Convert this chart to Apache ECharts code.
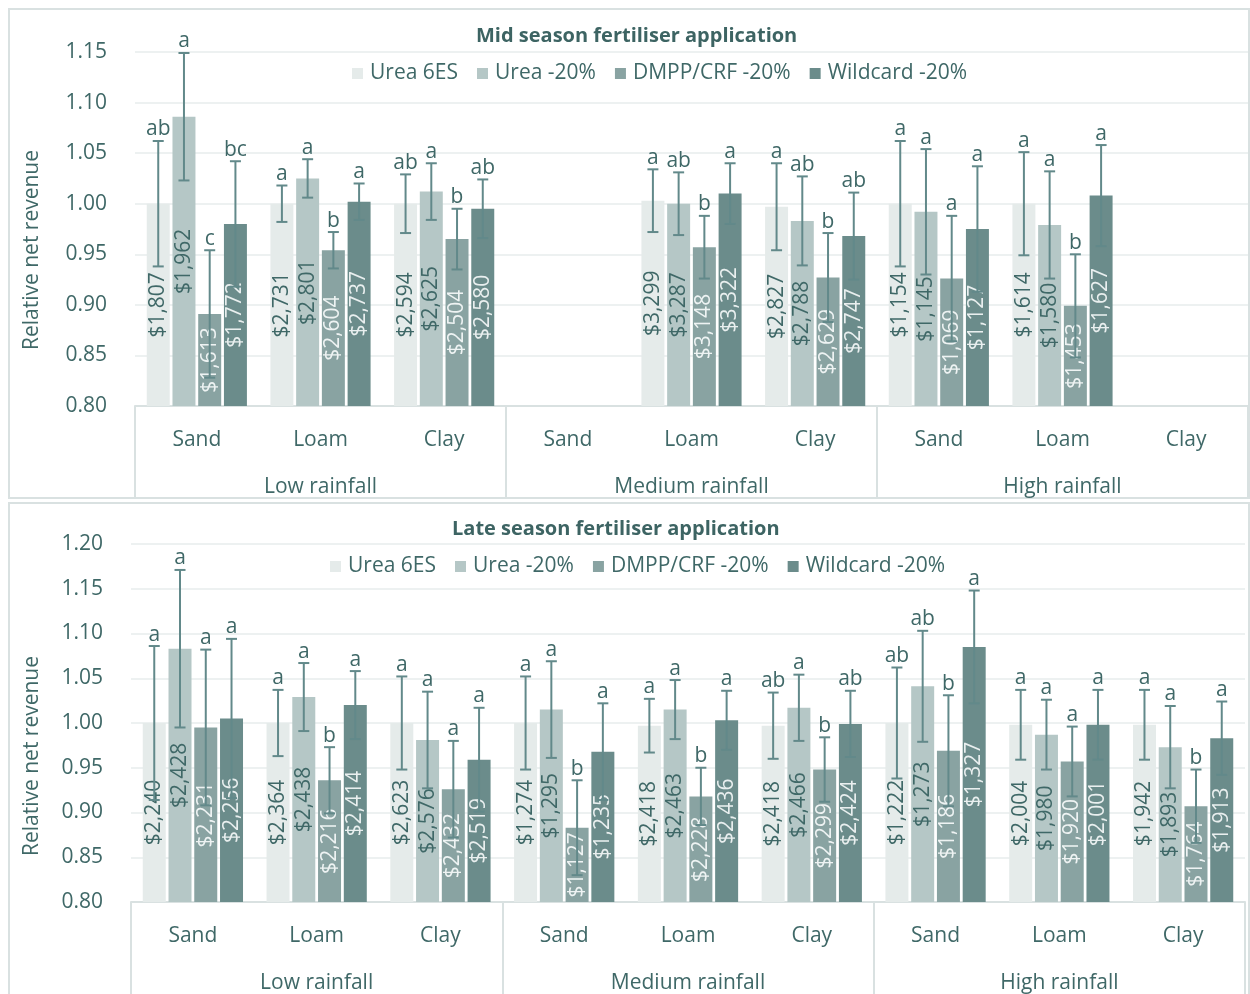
<!DOCTYPE html>
<html>
<head>
<meta charset="utf-8">
<script src="https://cdn.jsdelivr.net/npm/echarts@6/dist/echarts.min.js"></script>
<style>
html,body{margin:0;padding:0;background:#fff;}
#chart{width:1250px;height:994px;}
</style>
</head>
<body>
<div id="chart"></div>
<script>
// ---------- DATA ----------
const soils = ['Sand','Loam','Clay','Sand','Loam','Clay','Sand','Loam','Clay'];
const rainfall = ['Low rainfall','Medium rainfall','High rainfall'];
const seriesNames = ['Urea 6ES','Urea -20%','DMPP/CRF -20%','Wildcard -20%'];

// Mid season – relative net revenue
const midUrea6ES = [1.000, 1.000, 1.000, null, 1.003, 0.997, 1.000, 1.000, null];
const midUrea20  = [1.086, 1.025, 1.012, null, 1.000, 0.983, 0.992, 0.979, null];
const midDMPP    = [0.891, 0.954, 0.965, null, 0.957, 0.927, 0.926, 0.899, null];
const midWild    = [0.980, 1.002, 0.995, null, 1.010, 0.968, 0.975, 1.008, null];
// Mid season – error (±)
const midErrUrea6ES = [0.062, 0.018, 0.029, null, 0.031, 0.043, 0.062, 0.051, null];
const midErrUrea20  = [0.063, 0.019, 0.028, null, 0.031, 0.044, 0.062, 0.053, null];
const midErrDMPP    = [0.063, 0.018, 0.030, null, 0.031, 0.044, 0.062, 0.051, null];
const midErrWild    = [0.062, 0.018, 0.029, null, 0.030, 0.043, 0.062, 0.050, null];
// Mid season – significance letters
const midLetUrea6ES = ['ab','a','ab',null,'a','a','a','a',null];
const midLetUrea20  = ['a','a','a',null,'ab','ab','a','a',null];
const midLetDMPP    = ['c','b','b',null,'b','b','a','b',null];
const midLetWild    = ['bc','a','ab',null,'a','ab','a','a',null];
// Mid season – net revenue labels
const midDolUrea6ES = ['$1,807','$2,731','$2,594',null,'$3,299','$2,827','$1,154','$1,614',null];
const midDolUrea20  = ['$1,962','$2,801','$2,625',null,'$3,287','$2,788','$1,145','$1,580',null];
const midDolDMPP    = ['$1,613','$2,604','$2,504',null,'$3,148','$2,629','$1,069','$1,453',null];
const midDolWild    = ['$1,772','$2,737','$2,580',null,'$3,322','$2,747','$1,127','$1,627',null];

// Late season – relative net revenue
const lateUrea6ES = [1.000, 1.000, 1.000, 1.000, 0.997, 0.997, 1.000, 0.998, 0.998];
const lateUrea20  = [1.083, 1.029, 0.981, 1.015, 1.015, 1.017, 1.041, 0.987, 0.973];
const lateDMPP    = [0.995, 0.936, 0.926, 0.883, 0.918, 0.948, 0.969, 0.957, 0.907];
const lateWild    = [1.005, 1.020, 0.959, 0.968, 1.003, 0.999, 1.085, 0.998, 0.983];
// Late season – error (±)
const lateErrUrea6ES = [0.086, 0.037, 0.052, 0.052, 0.030, 0.037, 0.062, 0.039, 0.039];
const lateErrUrea20  = [0.088, 0.038, 0.054, 0.054, 0.033, 0.037, 0.062, 0.039, 0.046];
const lateErrDMPP    = [0.087, 0.037, 0.054, 0.053, 0.032, 0.036, 0.062, 0.039, 0.041];
const lateErrWild    = [0.089, 0.038, 0.058, 0.054, 0.033, 0.037, 0.063, 0.039, 0.041];
// Late season – significance letters
const lateLetUrea6ES = ['a','a','a','a','a','ab','ab','a','a'];
const lateLetUrea20  = ['a','a','a','a','a','a','ab','a','a'];
const lateLetDMPP    = ['a','b','a','b','b','b','b','a','b'];
const lateLetWild    = ['a','a','a','a','a','ab','a','a','a'];
// Late season – net revenue labels
const lateDolUrea6ES = ['$2,240','$2,364','$2,623','$1,274','$2,418','$2,418','$1,222','$2,004','$1,942'];
const lateDolUrea20  = ['$2,428','$2,438','$2,576','$1,295','$2,463','$2,466','$1,273','$1,980','$1,893'];
const lateDolDMPP    = ['$2,231','$2,216','$2,432','$1,127','$2,228','$2,299','$1,186','$1,920','$1,764'];
const lateDolWild    = ['$2,256','$2,414','$2,519','$1,235','$2,436','$2,424','$1,327','$2,001','$1,913'];

// ---------- STYLE ----------
const FONT = '"Open Sans", "Noto Sans", sans-serif';
const TXT = '#3f6867';
const BAR_COLORS = ['#e5ebea', '#b5c7c6', '#89a3a2', '#6b8c8b'];
const LABEL_COLORS = ['#3f6867', '#3f6867', '#eef3f3', '#e9efef'];
const ERR_COLOR = '#62898a';
const LINE = '#d9e1e1';
const GRIDLINE = '#edf1f1';
const CAT_GAP = 0.19, BAR_GAP = 0.12;
const FS = 21;

const panels = [
  {title:'Mid season fertiliser application',
   vals:[midUrea6ES, midUrea20, midDMPP, midWild],
   errs:[midErrUrea6ES, midErrUrea20, midErrDMPP, midErrWild],
   lets:[midLetUrea6ES, midLetUrea20, midLetDMPP, midLetWild],
   dols:[midDolUrea6ES, midDolUrea20, midDolDMPP, midDolWild],
   yMax:1.15},
  {title:'Late season fertiliser application',
   vals:[lateUrea6ES, lateUrea20, lateDMPP, lateWild],
   errs:[lateErrUrea6ES, lateErrUrea20, lateErrDMPP, lateErrWild],
   lets:[lateLetUrea6ES, lateLetUrea20, lateLetDMPP, lateLetWild],
   dols:[lateDolUrea6ES, lateDolUrea20, lateDolDMPP, lateDolWild],
   yMax:1.20}
];

const gridDefs = [
  {left:135, right:2, top:52, height:354},
  {left:131, right:5, top:544, height:358}
];
const catBoxDepth = [92, 92];

const grids = [], xAxes = [], yAxes = [], series = [], titles = [], legends = [];
panels.forEach((p, pi) => {
  grids.push(gridDefs[pi]);
  // soil axis
  xAxes.push({
    type:'category', gridIndex:pi, data:soils, position:'bottom',
    axisLine:{show:true, lineStyle:{color:LINE, width:2}},
    axisTick:{show:false},
    axisLabel:{margin:24, fontSize:FS, color:TXT, fontFamily:FONT, interval:0}
  });
  // rainfall axis
  xAxes.push({
    type:'category', gridIndex:pi, data:rainfall, position:'bottom',
    axisLine:{show:false},
    axisTick:{show:true, length:catBoxDepth[pi], lineStyle:{color:LINE, width:2}},
    axisLabel:{margin:71, fontSize:FS, color:TXT, fontFamily:FONT, interval:0}
  });
  yAxes.push({
    type:'value', gridIndex:pi, min:0.8, max:p.yMax, interval:0.05,
    axisLine:{show:false}, axisTick:{show:false},
    axisLabel:{margin:28, fontSize:FS, color:TXT, fontFamily:FONT,
      formatter:v => v.toFixed(2)},
    splitLine:{show:true, lineStyle:{color:GRIDLINE, width:2}}
  });
  const errData = [], errLetters = [];
  seriesNames.forEach((name, si) => {
    series.push({
      type:'bar', name, xAxisIndex:pi*2, yAxisIndex:pi,
      data:p.vals[si],
      barGap:(BAR_GAP*100)+'%', barCategoryGap:(CAT_GAP*100)+'%',
      itemStyle:{color:BAR_COLORS[si]},
      label:{show:true, position:'inside', rotate:90, fontSize:FS,
        fontFamily:FONT, color:LABEL_COLORS[si],
        formatter:(prm) => p.dols[si][prm.dataIndex] || ''},
      emphasis:{disabled:true}, animation:false, z:2
    });
    p.vals[si].forEach((v, ci) => {
      if (v == null) return;
      errData.push([ci, si, v, p.errs[si][ci]]);
      errLetters.push(p.lets[si][ci]);
    });
  });
  series.push({
    type:'custom', xAxisIndex:pi*2, yAxisIndex:pi, z:5, animation:false,
    silent:true,
    data:errData,
    renderItem:(params, api) => {
      const ci = api.value(0), si = api.value(1), v = api.value(2), e = api.value(3);
      const band = api.size([1, 0])[0];
      const group = band * (1 - CAT_GAP);
      const bw = group / (4 + 3 * BAR_GAP);
      const off = -group / 2 + bw / 2 + si * bw * (1 + BAR_GAP);
      const t = api.coord([ci, v + e]);
      const b = api.coord([ci, v - e]);
      const x = t[0] + off;
      const cap = 5.5;
      const ls = {stroke:ERR_COLOR, lineWidth:2};
      return {type:'group', children:[
        {type:'line', shape:{x1:x, y1:t[1], x2:x, y2:b[1]}, style:ls},
        {type:'line', shape:{x1:x-cap, y1:t[1], x2:x+cap, y2:t[1]}, style:ls},
        {type:'line', shape:{x1:x-cap, y1:b[1], x2:x+cap, y2:b[1]}, style:ls},
        {type:'text', style:{text:errLetters[params.dataIndex], x:x, y:t[1]-1,
          textAlign:'center', textVerticalAlign:'bottom', fontSize:FS,
          fontFamily:FONT, fill:TXT}}
      ]};
    }
  });
  titles.push({
    text:p.title, left: pi === 0 ? 471 : 447, top: pi === 0 ? 21 : 514,
    textStyle:{fontSize:20, fontWeight:'bold', color:'#3d6463', fontFamily:FONT}
  });
  legends.push({
    data:seriesNames, left: pi === 0 ? 347 : 325, top: pi === 0 ? 58 : 551,
    icon:'rect', itemWidth:11, itemHeight:11, itemGap:19,
    textStyle:{fontSize:FS, color:TXT, fontFamily:FONT, padding:[0,0,0,2]},
    selectedMode:false
  });
});

const option = {
  backgroundColor:'#ffffff',
  animation:false,
  title:titles,
  legend:legends,
  grid:grids,
  xAxis:xAxes,
  yAxis:yAxes,
  series:series,
  graphic:[
    {type:'rect', shape:{x:9, y:9, width:1240, height:489}, style:{fill:'none', stroke:LINE, lineWidth:2}, z:-1},
    {type:'rect', shape:{x:9, y:503, width:1240, height:500}, style:{fill:'none', stroke:LINE, lineWidth:2}, z:-1},
    {type:'text', x:32, y:250, rotation:Math.PI/2,
      style:{text:'Relative net revenue', textAlign:'center', textVerticalAlign:'middle',
        fontSize:FS, fill:TXT, fontFamily:FONT}},
    {type:'text', x:32, y:756, rotation:Math.PI/2,
      style:{text:'Relative net revenue', textAlign:'center', textVerticalAlign:'middle',
        fontSize:FS, fill:TXT, fontFamily:FONT}}
  ]
};

const chart = echarts.init(document.getElementById('chart'), null, {renderer:'canvas'});
chart.setOption(option);
</script>
</body>
</html>
